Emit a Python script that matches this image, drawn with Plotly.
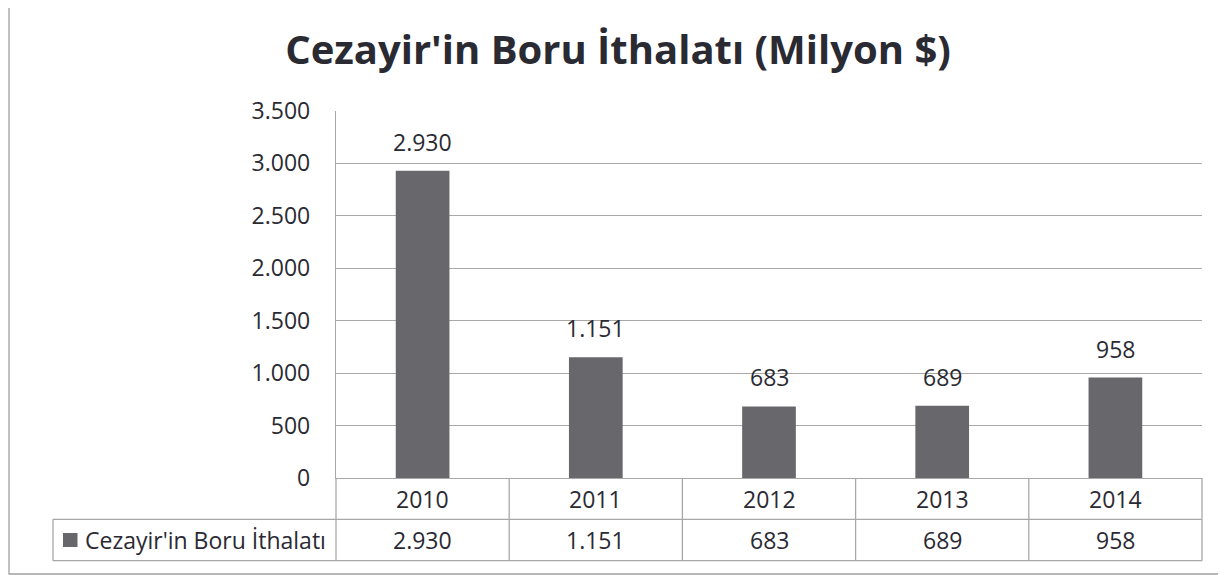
import plotly.graph_objects as go

years = ["2010", "2011", "2012", "2013", "2014"]
values = [2930, 1151, 683, 689, 958]
series_name = "Cezayir'in Boru İthalatı"
title_text = "Cezayir'in Boru İthalatı (Milyon $)"
y_ticks = [0, 500, 1000, 1500, 2000, 2500, 3000, 3500]

def tr(v):
    return f"{v:,}".replace(",", ".")

# page body has an 8px default margin; work in screen pixels and offset
O = 8
W, H = 1226 - O, 575 - O
L, R, T, B = 336 - O, 24, 111 - O, 575 - 478
PW, PH = W - L - R, H - T - B

def px(x):
    return (x - O - L) / PW

def py(y):
    return (H - B - (y - O)) / PH

TXT = "#2A2A33"
GRID = "#A8A8A8"
BAR = "#68676C"
FONT = "Open Sans"

fig = go.Figure()
fig.add_trace(go.Bar(x=years, y=values, marker=dict(color=BAR, line=dict(width=0)),
                     width=0.31, name=series_name, showlegend=False, hoverinfo="skip"))

shapes = []
line = dict(color=GRID, width=1.3)
for yy in [519.3, 560.7]:
    shapes.append(dict(type="line", xref="paper", yref="paper", x0=px(53), x1=1,
                       y0=py(yy), y1=py(yy), line=line))
shapes.append(dict(type="line", xref="paper", yref="paper", x0=0, x1=0,
                   y0=0, y1=py(560.7), line=line))
shapes.append(dict(type="line", xref="paper", yref="paper", x0=1, x1=1,
                   y0=0, y1=py(560.7), line=line))
shapes.append(dict(type="line", xref="paper", yref="paper", x0=px(53), x1=px(53),
                   y0=py(519.3), y1=py(560.7), line=line))
for i in range(len(years) - 1):
    shapes.append(dict(type="line", xref="x", yref="paper", x0=i + 0.5, x1=i + 0.5,
                       y0=0, y1=py(560.7), line=line))
shapes.append(dict(type="rect", xref="paper", yref="paper", x0=px(63), x1=px(77.5),
                   y0=py(547), y1=py(533), fillcolor=BAR, line=dict(width=0)))
shapes.append(dict(type="rect", xref="paper", yref="paper", x0=px(9), x1=px(1240),
                   y0=py(574), y1=py(-10), line=dict(color="#A0A0A0", width=1.3),
                   fillcolor="rgba(0,0,0,0)", layer="below"))

annotations = []
tf = dict(size=23, color=TXT, family=FONT)
for i, (yr, v) in enumerate(zip(years, values)):
    annotations.append(dict(x=i, y=v, xref="x", yref="y", text=tr(v), showarrow=False,
                            yanchor="bottom", yshift=11, font=tf))
    annotations.append(dict(x=i, y=py(498.5), xref="x", yref="paper", text=yr, showarrow=False,
                            yanchor="middle", font=tf))
    annotations.append(dict(x=i, y=py(540), xref="x", yref="paper", text=tr(v), showarrow=False,
                            yanchor="middle", font=tf))
annotations.append(dict(x=px(83), y=py(540), xref="paper", yref="paper", text=series_name,
                        showarrow=False, xanchor="left", yanchor="middle", font=tf))

fig.update_layout(
    width=W, height=H,
    margin=dict(l=L, r=R, t=T, b=B, autoexpand=False),
    paper_bgcolor="white", plot_bgcolor="white",
    separators=",.",
    title=dict(text=f"<b>{title_text}</b>", x=(618 - O) / W, xanchor="center",
               y=1 - (50 - O) / H, yanchor="middle", yref="container",
               font=dict(size=40, color=TXT, family=FONT)),
    xaxis=dict(type="category", showticklabels=False, ticks="", showgrid=False,
               showline=True, linecolor=GRID, linewidth=1.3, range=[-0.5, 4.5]),
    yaxis=dict(range=[0, 3500], tickvals=y_ticks, tickformat=",d", showgrid=True,
               gridcolor=GRID, gridwidth=1.3, showline=True, linecolor=GRID, linewidth=1.3,
               zeroline=False, ticks="", ticklabelstandoff=20,
               tickfont=tf),
    shapes=shapes, annotations=annotations, showlegend=False,
)

fig.write_html("out.html")
